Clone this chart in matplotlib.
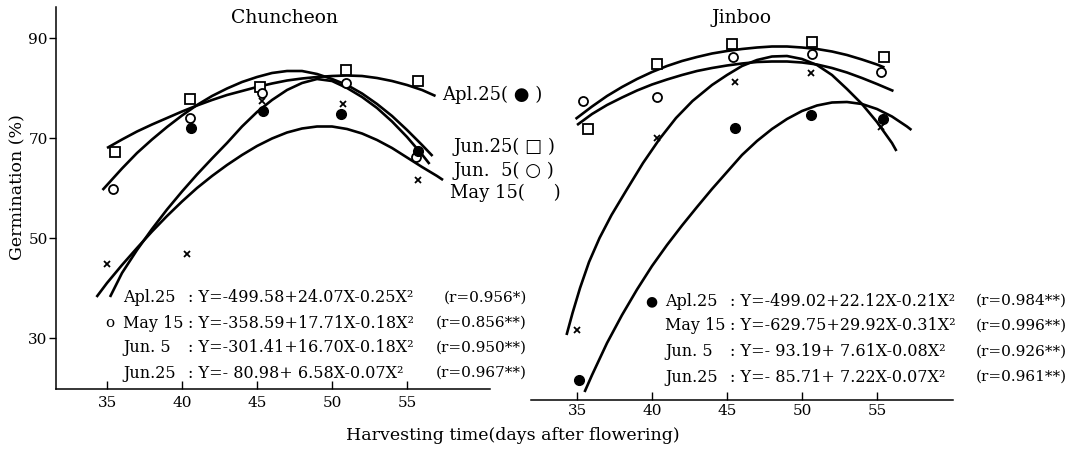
import matplotlib
matplotlib.use("Agg")
import matplotlib.pyplot as plt

FAM = ["DejaVu Serif", "DejaVu Sans"]
plt.rcParams['font.family'] = FAM

# ---------------- data ----------------
# Chuncheon observed points
cc_apl25_x = [40.6, 45.4, 50.6, 55.7]
cc_apl25_y = [72.0, 75.4, 74.8, 67.4]
cc_may15_x = [35.0, 40.3, 45.3, 50.7, 55.7]
cc_may15_y = [44.8, 46.8, 77.4, 76.8, 61.6]
cc_jun5_x = [35.4, 40.5, 45.3, 50.9, 55.6]
cc_jun5_y = [59.8, 74.0, 79.0, 81.1, 66.2]
cc_jun25_x = [35.5, 40.5, 45.2, 50.9, 55.7]
cc_jun25_y = [67.2, 77.8, 80.2, 83.7, 81.4]

# Chuncheon fitted curves
cc_curveA_x = [35, 36, 37, 38, 39, 40, 41, 42, 43, 44, 45, 46, 47, 48, 49, 50, 51, 52, 53, 54, 55, 56, 56.9]
cc_curveA_y = [68.0, 69.7, 71.3, 72.7, 74.0, 75.3, 76.5, 77.6, 78.6, 79.4, 80.2, 80.9, 81.5, 81.9, 82.2,
               82.4, 82.5, 82.4, 82.0, 81.4, 80.6, 79.6, 78.4]
cc_curveB_x = [34.7, 36, 37, 38, 39, 40, 41, 42, 43, 44, 45, 46, 47, 48, 49, 50, 51, 52, 53, 54, 55, 56, 56.7]
cc_curveB_y = [59.6, 63.9, 67.0, 69.7, 72.2, 74.5, 76.6, 78.4, 79.9, 81.2, 82.2, 83.0, 83.4, 83.4, 82.8,
               81.8, 80.6, 78.9, 76.8, 74.4, 71.6, 68.6, 66.4]
cc_curveC_x = [35.2, 36, 37, 38, 39, 40, 41, 42, 43, 44, 45, 46, 47, 48, 49, 50, 51, 52, 53, 54, 55, 56, 56.5]
cc_curveC_y = [38.2, 43.0, 47.6, 51.8, 55.7, 59.3, 62.7, 65.9, 69.0, 72.3, 75.2, 77.6, 79.6, 81.0, 81.8,
               81.4, 80.0, 78.2, 76.0, 73.3, 70.2, 66.7, 64.8]
cc_curveD_x = [34.3, 35, 36, 37, 38, 39, 40, 41, 42, 43, 44, 45, 46, 47, 48, 49, 50, 51, 52, 53, 54, 55, 56, 57, 57.4]
cc_curveD_y = [38.2, 41.0, 44.6, 48.0, 51.3, 54.4, 57.3, 60.0, 62.4, 64.6, 66.6, 68.4, 69.9, 71.1, 71.9,
               72.3, 72.3, 71.8, 70.9, 69.6, 68.0, 66.1, 64.2, 62.4, 61.6]

# Jinboo observed points
jb_apl25_x = [35.1, 45.5, 50.6, 55.4]
jb_apl25_y = [21.6, 72.0, 74.6, 73.8]
jb_may15_x = [35.0, 40.3, 45.5, 50.6, 55.3]
jb_may15_y = [31.6, 70.0, 81.2, 83.0, 72.2]
jb_jun5_x = [35.4, 40.3, 45.4, 50.7, 55.3]
jb_jun5_y = [77.4, 78.2, 86.2, 86.8, 83.2]
jb_jun25_x = [35.7, 40.3, 45.3, 50.7, 55.5]
jb_jun25_y = [71.8, 84.8, 88.8, 89.2, 86.2]

# Jinboo fitted curves
jb_curveE_x = [34.9, 36, 37, 38, 39, 40, 41, 42, 43, 44, 45, 46, 47, 48, 49, 50, 51, 52, 53, 54, 55, 55.5]
jb_curveE_y = [73.8, 76.3, 78.4, 80.2, 81.8, 83.2, 84.4, 85.4, 86.2, 86.9, 87.4, 87.8, 88.1, 88.3, 88.3,
               88.1, 87.8, 87.3, 86.6, 85.7, 84.7, 84.1]
jb_curveF_x = [35, 36, 37, 38, 39, 40, 41, 42, 43, 44, 45, 46, 47, 48, 49, 50, 51, 52, 53, 54, 55, 56.1]
jb_curveF_y = [72.6, 74.8, 76.6, 78.1, 79.5, 80.7, 81.7, 82.6, 83.4, 84.0, 84.5, 84.9, 85.2, 85.3, 85.3,
               85.1, 84.7, 84.0, 83.1, 82.0, 80.8, 79.4]
jb_curveG_x = [34.3, 34.7, 35.2, 35.8, 36.5, 37.3, 38.3, 39.4, 40.5, 41.6, 42.7, 44, 45, 46, 47, 48, 49,
               50, 51, 52, 53, 54, 55, 56, 56.3]
jb_curveG_y = [30.6, 35.0, 40.0, 45.2, 50.0, 54.6, 59.6, 65.0, 69.8, 74.0, 77.4, 80.6, 82.6, 84.4, 85.6,
               86.3, 86.4, 85.8, 84.6, 82.6, 79.8, 76.8, 73.2, 69.0, 67.4]
jb_curveH_x = [35.5, 36, 37, 38, 39, 40, 41, 42, 43, 44, 45, 46, 47, 48, 49, 50, 51, 52, 53, 54, 55, 56, 57, 57.3]
jb_curveH_y = [19.2, 22.6, 29.0, 34.6, 39.7, 44.4, 48.6, 52.5, 56.2, 59.8, 63.2, 66.6, 69.4, 71.8, 73.8,
               75.4, 76.5, 77.1, 77.2, 76.8, 75.8, 74.3, 72.3, 71.6]

x_ticks = [35, 40, 45, 50, 55]
y_ticks = [30, 50, 70, 90]

cc_names = ["Apl.25", "May 15", "Jun. 5", "Jun.25"]
cc_eqs = [": Y=-499.58+24.07X-0.25X²", ": Y=-358.59+17.71X-0.18X²",
          ": Y=-301.41+16.70X-0.18X²", ": Y=- 80.98+ 6.58X-0.07X²"]
cc_r = ["(r=0.956*)", "(r=0.856**)", "(r=0.950**)", "(r=0.967**)"]
jb_names = ["Apl.25", "May 15", "Jun. 5", "Jun.25"]
jb_eqs = [": Y=-499.02+22.12X-0.21X²", ": Y=-629.75+29.92X-0.31X²",
          ": Y=- 93.19+ 7.61X-0.08X²", ": Y=- 85.71+ 7.22X-0.07X²"]
jb_r = ["(r=0.984**)", "(r=0.996**)", "(r=0.926**)", "(r=0.961**)"]

legend_labels = ["Apl.25( ● )", "Jun.25( □ )", "Jun.  5( ○ )", "May 15(     )"]

# ---------------- figure ----------------
W, H = 1078, 449
fig = plt.figure(figsize=(W / 100, H / 100), dpi=100)

def fx(px):
    return px / W

def fy(py):
    return 1 - py / H

axL = fig.add_axes([fx(56), fy(389), fx(490) - fx(56), fy(7) - fy(389)])
axR = fig.add_axes([fx(531), fy(400), fx(953) - fx(531), fy(7) - fy(400)])

axL.set_xlim(31.6, 60.53)
axL.set_ylim(19.8, 96.2)
axR.set_xlim(31.93, 60.07)
axR.set_ylim(17.6, 96.2)

lw = 1.9
for ax in (axL, axR):
    ax.spines['top'].set_visible(False)
    ax.spines['right'].set_visible(False)
    ax.set_xticks(x_ticks)
    ax.set_xticklabels([str(t) for t in x_ticks])
    ax.tick_params(axis='x', direction='in', length=6, width=1.0,
                   labelsize=11, pad=5)
    ax.spines['bottom'].set_linewidth(1.1)
    ax.patch.set_alpha(0)

axL.spines['left'].set_linewidth(1.1)
axL.set_yticks(y_ticks)
axL.set_yticklabels([str(t) for t in y_ticks])
axL.tick_params(axis='y', direction='out', length=5, width=1.0,
                labelsize=11, pad=1)
axR.spines['left'].set_visible(False)
axR.set_yticks([])
axR.tick_params(axis='x', pad=3)

# curves
for xs, ys in [(cc_curveA_x, cc_curveA_y), (cc_curveB_x, cc_curveB_y),
               (cc_curveC_x, cc_curveC_y), (cc_curveD_x, cc_curveD_y)]:
    axL.plot(xs, ys, color='black', lw=lw, solid_capstyle='butt', solid_joinstyle='round')
for xs, ys in [(jb_curveE_x, jb_curveE_y), (jb_curveF_x, jb_curveF_y),
               (jb_curveG_x, jb_curveG_y), (jb_curveH_x, jb_curveH_y)]:
    axR.plot(xs, ys, color='black', lw=lw, solid_capstyle='butt', solid_joinstyle='round')

def markers(ax, ax_x, ax_y, kind):
    if kind == 'filled':
        ax.plot(ax_x, ax_y, 'o', ms=7, mfc='black', mec='black', ls='none')
    elif kind == 'circle':
        ax.plot(ax_x, ax_y, 'o', ms=6.5, mfc='white', mec='black', mew=1.3, ls='none')
    elif kind == 'square':
        ax.plot(ax_x, ax_y, 's', ms=7, mfc='white', mec='black', mew=1.3, ls='none')
    else:
        ax.plot(ax_x, ax_y, 'x', ms=5, mec='black', mew=1.3, ls='none')

markers(axL, cc_jun25_x, cc_jun25_y, 'square')
markers(axL, cc_jun5_x, cc_jun5_y, 'circle')
markers(axL, cc_may15_x, cc_may15_y, 'x')
markers(axL, cc_apl25_x, cc_apl25_y, 'filled')
markers(axR, jb_jun25_x, jb_jun25_y, 'square')
markers(axR, jb_jun5_x, jb_jun5_y, 'circle')
markers(axR, jb_may15_x, jb_may15_y, 'x')
markers(axR, jb_apl25_x, jb_apl25_y, 'filled')

# titles
fig.text(fx(284), fy(18), "Chuncheon", ha='center', va='center', fontsize=13.5)
fig.text(fx(742), fy(18), "Jinboo", ha='center', va='center', fontsize=13.5)

# axis labels
fig.text(fx(18), fy(187), "Germination (%)", rotation=90, ha='center',
         va='center', fontsize=12.5)
fig.text(fx(513), fy(436), "Harvesting time(days after flowering)",
         ha='center', va='center', fontsize=12.5)

# middle labels
leg_pos = [(442, 95), (453, 147), (453, 171), (450, 193)]
for lab, (px, py) in zip(legend_labels, leg_pos):
    fig.text(fx(px), fy(py), lab, ha='left', va='center', fontsize=13)

# equations
cc_rows = [298, 323, 348, 373]
jb_rows = [301, 326, 352, 377]
for i in range(4):
    fig.text(fx(123), fy(cc_rows[i]), cc_names[i], ha='left', va='center', fontsize=11.5)
    fig.text(fx(188), fy(cc_rows[i]), cc_eqs[i], ha='left', va='center', fontsize=11.5)
    fig.text(fx(527), fy(cc_rows[i]), cc_r[i], ha='right', va='center', fontsize=11)
    fig.text(fx(665), fy(jb_rows[i]), jb_names[i], ha='left', va='center', fontsize=11.5)
    fig.text(fx(730), fy(jb_rows[i]), jb_eqs[i], ha='left', va='center', fontsize=11.5)
    fig.text(fx(1067), fy(jb_rows[i]), jb_r[i], ha='right', va='center', fontsize=11)
fig.text(fx(110), fy(cc_rows[1]), "o", ha='center', va='center', fontsize=11)
fig.text(fx(651), fy(jb_rows[0]), "●", ha='center', va='center', fontsize=10)

fig.savefig("out.png", dpi=100)
